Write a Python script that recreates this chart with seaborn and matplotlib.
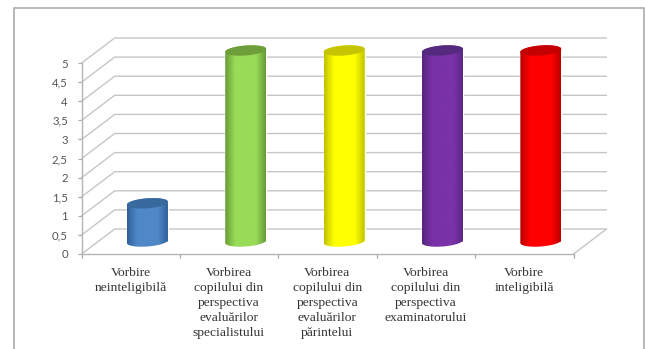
import numpy as np
import pandas as pd
import matplotlib
matplotlib.use("Agg")
import matplotlib.pyplot as plt
import seaborn as sns
from matplotlib.colors import LinearSegmentedColormap
from matplotlib.lines import Line2D
from matplotlib.patches import PathPatch
from matplotlib.path import Path
from matplotlib.transforms import Affine2D

categories = [
    "Vorbire\nneinteligibilă",
    "Vorbirea\ncopilului din\nperspectiva\nevaluărilor\nspecialistului",
    "Vorbirea\ncopilului din\nperspectiva\nevaluărilor\npărintelui",
    "Vorbirea\ncopilului din\nperspectiva\nexaminatorului",
    "Vorbire\ninteligibilă",
]
values = [1, 5, 5, 5, 5]
y_ticks = [0, 0.5, 1, 1.5, 2, 2.5, 3, 3.5, 4, 4.5, 5]
y_tick_labels = ["0", "0,5", "1", "1,5", "2", "2,5", "3", "3,5", "4", "4,5", "5"]
body_centre = ["#5088c8", "#98dc58", "#ffff00", "#7a32a8", "#ff0000"]
body_edge = ["#2f5f98", "#669a34", "#c0c000", "#54267c", "#b80000"]
cap_color = ["#386a9e", "#6e9e3a", "#c4c400", "#552a7e", "#c40000"]

W, H = 645, 349
X0, X1, Y0, Y5 = 81.7, 573.5, 254.0, 63.0
PX_X = (X1 - X0) / 5          # pixels per category
PX_Y = (Y0 - Y5) / 5          # pixels per value unit
WALL_DX, WALL_DY = 33 / PX_X, 25 / PX_Y
GRID = "#c6c6c6"

sns.set_theme(style="white")
plt.rcParams["font.family"] = ["Liberation Serif", "DejaVu Serif"]

fig = plt.figure(figsize=(W / 100, H / 100), dpi=100, facecolor="white")
ax = fig.add_axes([X0 / W, 1 - Y0 / H, (X1 - X0) / W, (Y0 - Y5) / H])

df = pd.DataFrame({"category": categories, "value": values})
sns.barplot(data=df, x="category", y="value", hue="category",
            palette=body_centre, width=41 / PX_X, legend=False, ax=ax,
            saturation=1, zorder=2)
ax.set_xlim(-0.5, 4.5)
ax.set_ylim(0, 5)
ax.set_xlabel("")
ax.set_ylabel("")
ax.patch.set_alpha(0)

# Perspective wall and floor rules behind the columns
for v in y_ticks:
    ax.plot([-0.5, -0.5 + WALL_DX, 4.5 + WALL_DX],
            [v, v + WALL_DY, v + WALL_DY],
            color=GRID, lw=1.0, clip_on=False, zorder=1)
ax.plot([4.5, 4.5 + WALL_DX], [0, WALL_DY], color=GRID, lw=1.0,
        clip_on=False, zorder=1)

# Axes
for side in ("top", "right"):
    ax.spines[side].set_visible(False)
for side in ("left", "bottom"):
    ax.spines[side].set_color("#b4b4b4")
    ax.spines[side].set_linewidth(1.0)
ax.set_yticks(y_ticks)
ax.set_yticklabels(y_tick_labels, family=["Lato", "DejaVu Sans"],
                   fontsize=8.2, color="#555555")
ax.set_xticks(np.arange(-0.5, 5, 1))
ax.set_xticklabels([])
ax.set_xticks(np.arange(5) - 0.003, minor=True)
ax.set_xticklabels(categories, minor=True, fontsize=9.7, color="#333333",
                   linespacing=1.35, va="top")
ax.tick_params(axis="both", which="major", length=3, width=0.9,
               color="#a8a8a8", left=True, bottom=True)
ax.tick_params(axis="y", pad=7)
ax.tick_params(axis="x", which="minor", length=0, pad=9)

# Columns are set back half way into the floor and shaded as cylinders
rim_tilt = 1.5 / PX_Y
ry = 5.0 / PX_Y
shift_x, shift_y = WALL_DX / 2, WALL_DY / 2
set_back = Affine2D().translate(shift_x, shift_y) + ax.transData
t = np.linspace(0, 2 * np.pi, 80)

for i, bar in enumerate(ax.patches[:len(values)]):
    bar.set_transform(set_back)
    bar.set_clip_on(False)
    x0 = bar.get_x() + shift_x
    w = bar.get_width()
    top = bar.get_height() + shift_y
    base = shift_y
    cx = x0 + w / 2

    lower = np.linspace(np.pi, 2 * np.pi, 40)
    upper = np.linspace(0, np.pi, 40)
    bx = cx + w / 2 * np.cos(lower)
    by = base + ry * np.sin(lower) + rim_tilt * np.cos(lower)
    tx = cx + w / 2 * np.cos(upper)
    ty = top + ry * np.sin(upper) + rim_tilt * np.cos(upper)
    outline = np.column_stack([np.r_[bx, tx], np.r_[by, ty]])
    clip = PathPatch(Path(np.vstack([outline, outline[0]])),
                     transform=ax.transData, fc="none", ec="none")
    ax.add_patch(clip)

    cmap = LinearSegmentedColormap.from_list(
        "shade", [body_edge[i], body_centre[i]])
    ramp = np.clip(np.sin(np.linspace(0, np.pi, 128)) * 1.4, 0, 1)[None, :]
    im = ax.imshow(ramp, cmap=cmap, aspect="auto", zorder=3,
                   extent=[x0, x0 + w, base - 2 * ry, top + 2 * ry])
    im.set_clip_path(clip)
    im.set_clip_box(fig.bbox)

    cap = np.column_stack([cx + w / 2 * np.cos(t),
                           top + ry * np.sin(t) + rim_tilt * np.cos(t)])
    ax.add_patch(PathPatch(Path(cap), fc=cap_color[i], ec="none", zorder=4,
                           clip_on=False))
ax.set_xlim(-0.5, 4.5)
ax.set_ylim(0, 5)
ax.set_aspect("auto")

# Chart area border, running off the lower edge of the figure
border = dict(color="#b2b2b2", lw=1.3, transform=fig.transFigure)
fig.add_artist(Line2D([13.5 / W, 13.5 / W, 644 / W, 644 / W],
                      [0, 1 - 8 / H, 1 - 8 / H, 0], **border))

fig.savefig("out.png", dpi=100, facecolor="white")
